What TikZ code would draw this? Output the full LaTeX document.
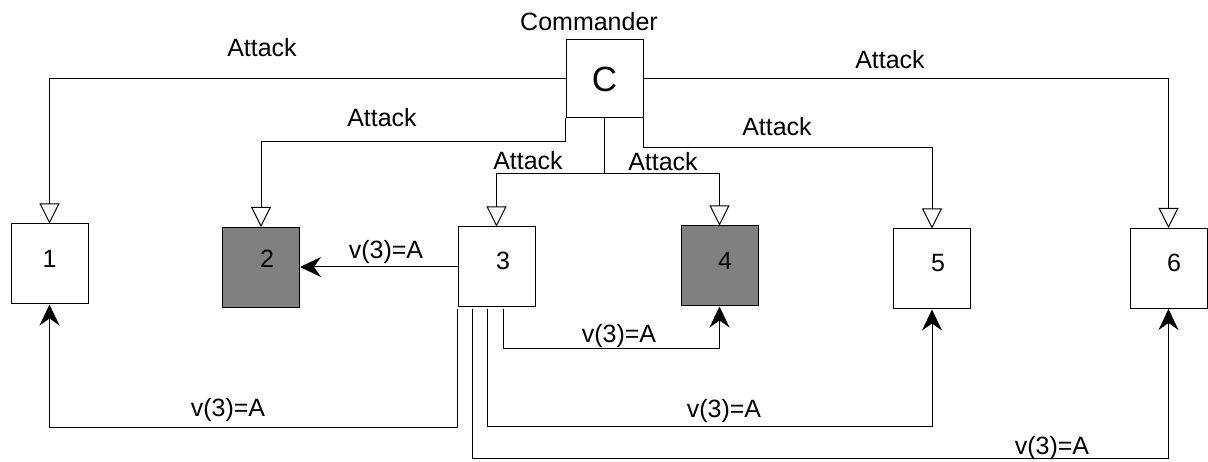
\documentclass[tikz,border=0pt]{standalone}
\usepackage{fontspec}
\setmainfont{Liberation Sans}
\usetikzlibrary{arrows.meta}
\begin{document}
\begin{tikzpicture}[x=1pt,y=-1pt,
  lbl/.style={font=\fontsize{25}{30}\selectfont, inner sep=0pt},
  gbox/.style={draw=black, line width=1pt, minimum width=77pt, minimum height=80pt, inner sep=0pt, font=\fontsize{25}{30}\selectfont},
  faulty/.style={gbox, fill=black!50},
  order/.style={line width=1pt, -{Triangle[open,length=20pt,width=20pt]}},
  relay/.style={line width=1pt, -{Stealth[length=21pt,width=20pt,inset=7pt]}}
]
\useasboundingbox (0,0) rectangle (1208,462);

% commander
\node[gbox, minimum height=78pt, font=\fontsize{35}{40}\selectfont] (C) at (604.5,79) {C};
\node[lbl] (cmd) at (589,22) {Commander};

% lieutenants
\node[gbox]   (n1) at (49.5,264)   {};
\node[faulty] (n2) at (261,267.5)  {};
\node[gbox]   (n3) at (496.5,267)  {};
\node[faulty] (n4) at (719.5,266)  {};
\node[gbox]   (n5) at (932,269)    {};
\node[gbox]   (n6) at (1168.5,268.5) {};

\node[lbl] (t1) at (49.5,259) {1};
\node[lbl] (t2) at (267,259) {2};
\node[lbl] (t3) at (503,261) {3};
\node[lbl] (t4) at (725,261) {4};
\node[lbl] (t5) at (938,263) {5};
\node[lbl] (t6) at (1174,263) {6};

% orders sent by the commander
\draw[order] (C.west) -| (n1.north);
\draw[order] (C.south west) -- ++(0,23) -| (n2.north);
\draw[order] (C.south) -- ++(0,55) -| (n3.north);
\draw[order] (C.south) -- ++(0,55) -| (n4.north);
\draw[order] (C.south east) -- ++(0,29) -| (n5.north);
\draw[order] (C.east) -| (n6.north);

\node[lbl] (a1) at (262,48)  {Attack};
\node[lbl] (a2) at (382,118) {Attack};
\node[lbl] (a3) at (528,161) {Attack};
\node[lbl] (a4) at (663,162) {Attack};
\node[lbl] (a5) at (777,127) {Attack};
\node[lbl] (a6) at (890,60)  {Attack};

% values relayed by lieutenant 3
\draw[relay] (n3.west) -- (n3.west -| n2.east);
\draw[relay] ([yshift=-2pt]n3.south west) -- ++(0,118) -| (n1.south);
\draw[relay] ([xshift=15pt,yshift=-2pt]n3.south west) -- ++(0,149) -| (n6.south);
\draw[relay] ([xshift=30pt,yshift=-2pt]n3.south west) -- ++(0,117) -| (n5.south);
\draw[relay] ([xshift=46pt,yshift=-2pt]n3.south west) -- ++(0,39) -| (n4.south);

\node[lbl] (v2) at (386,252)  {v(3)=A};
\node[lbl] (v1) at (228,410)  {v(3)=A};
\node[lbl] (v4) at (619,336)  {v(3)=A};
\node[lbl] (v5) at (724,411)  {v(3)=A};
\node[lbl] (v6) at (1052,448) {v(3)=A};
\end{tikzpicture}
\end{document}
